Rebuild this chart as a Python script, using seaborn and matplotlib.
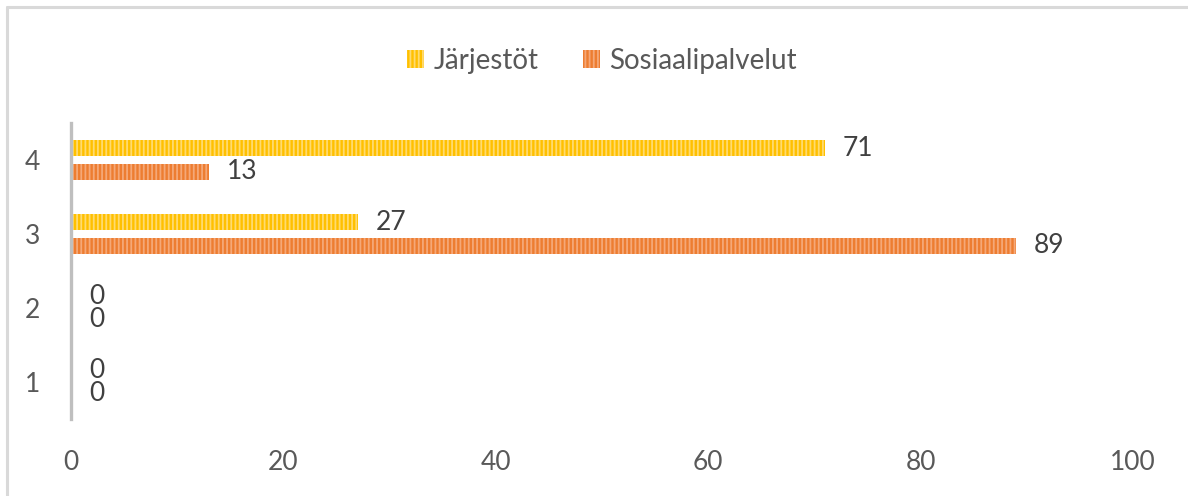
import matplotlib
matplotlib.use("Agg")
import matplotlib.pyplot as plt
from matplotlib.patches import Patch
from matplotlib.lines import Line2D
import pandas as pd
import seaborn as sns

# --- data ---
categories = ['1', '2', '3', '4']
series_names = ['Järjestöt', 'Sosiaalipalvelut']
jarjestot = [0, 0, 27, 71]
sosiaalipalvelut = [0, 0, 89, 13]
x_ticks = [0, 20, 40, 60, 80, 100]

colors = {'Järjestöt': '#FFC000', 'Sosiaalipalvelut': '#ED7D31'}
stripe_colors = {'Järjestöt': '#FFDB70', 'Sosiaalipalvelut': '#F5A878'}

df = pd.DataFrame({
    'category': categories * 2,
    'series': [series_names[0]] * 4 + [series_names[1]] * 4,
    'value': jarjestot + sosiaalipalvelut,
})

sns.set_style("white")
plt.rcParams['font.family'] = ['Lato', 'DejaVu Sans']
plt.rcParams['hatch.linewidth'] = 1.3

fig = plt.figure(figsize=(11.88, 4.96), dpi=100)
ax = fig.add_axes([71 / 1188, 1 - 419 / 496, (1133 - 71) / 1188, 296 / 496])

sns.barplot(
    data=df,
    x='value',
    y='category',
    hue='series',
    order=['4', '3', '2', '1'],
    hue_order=series_names,
    palette=colors,
    saturation=1,
    width=0.64,
    gap=0.3,
    orient='h',
    legend=False,
    ax=ax,
)

# striped fill like the original
for cont, name in zip(ax.containers, series_names):
    for bar in cont:
        bar.set_hatch('||||')
        bar.set_edgecolor(stripe_colors[name])
        bar.set_linewidth(0)
    ax.bar_label(cont, padding=13, fontsize=19, color='#404040')

ax.set_xlim(0, 100)
ax.set_xticks(x_ticks)
ax.set_xlabel("")
ax.set_ylabel("")
ax.tick_params(axis='x', length=0, pad=22, labelsize=19, labelcolor='#595959')
ax.tick_params(axis='y', length=0, pad=22, labelsize=19, labelcolor='#595959')
ax.spines[["top", "right", "bottom"]].set_visible(False)
ax.spines["left"].set_color('#BFBFBF')
ax.spines["left"].set_linewidth(2.4)

handles = [Patch(facecolor=colors[n], edgecolor=stripe_colors[n], hatch='||||', linewidth=0)
           for n in series_names]
ax.legend(handles, series_names, loc='center', bbox_to_anchor=(0.5, 1.21), ncol=2,
          frameon=False, fontsize=20, labelcolor='#595959', handlelength=0.6,
          handleheight=0.6, handletextpad=0.35, columnspacing=1.6)

# light chart-area border (left and top edges)
fig.add_artist(Line2D([6.5 / 1188, 6.5 / 1188], [0, 1 - 6.5 / 496], color='#D9D9D9', lw=2.2))
fig.add_artist(Line2D([6.5 / 1188, 1], [1 - 6.5 / 496, 1 - 6.5 / 496], color='#D9D9D9', lw=2.2))

fig.savefig("out.png", dpi=100)
